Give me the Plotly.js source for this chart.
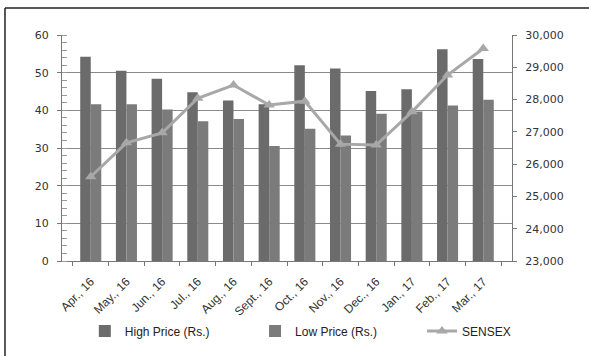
<!DOCTYPE html>
<html>
<head>
<meta charset="utf-8">
<script src="https://cdn.plot.ly/plotly-3.0.1.min.js"></script>
<style>html,body{margin:0;padding:0;background:#fff;}#chart{width:589px;height:356px;}</style>
</head>
<body>
<div id="chart"></div>
<script>
const months = ["Apr., 16","May., 16","Jun., 16","Jul., 16","Aug., 16","Sept., 16","Oct., 16","Nov., 16","Dec., 16","Jan., 17","Feb., 17","Mar., 17"];
const highPrice = [54.2, 50.5, 48.4, 44.8, 42.6, 41.6, 52.0, 51.1, 45.1, 45.6, 56.2, 53.6];
const lowPrice  = [41.6, 41.6, 40.2, 37.1, 37.7, 30.5, 35.1, 33.3, 39.1, 39.7, 41.3, 42.8];
const sensex    = [25610, 26660, 26970, 28040, 28450, 27830, 27950, 26620, 26590, 27620, 28760, 29580];

const traces = [
  {type:'bar', name:'High Price (Rs.)', x:months, y:highPrice, marker:{color:'#6b6b6b'}, yaxis:'y', legend:'legend'},
  {type:'bar', name:'Low Price (Rs.)', x:months, y:lowPrice, marker:{color:'#7b7b7b'}, yaxis:'y', legend:'legend2'},
  {type:'scatter', mode:'lines+markers', name:'SENSEX', x:months, y:sensex, yaxis:'y2', legend:'legend3',
   line:{color:'#a8a8a8', width:3}, marker:{symbol:'triangle-up', size:10, color:'#a8a8a8'}}
];

const tickFont = {family:'DejaVu Sans', size:11, color:'#333'};
const legFont = {family:'Liberation Sans', size:12, color:'#222'};
function leg(x){ return {orientation:'h', xref:'container', yref:'container', x:x, y:0.07, xanchor:'left', yanchor:'middle', font:legFont, bgcolor:'rgba(0,0,0,0)'}; }
const layout = {
  width:589, height:356,
  margin:{l:62, r:77, t:35, b:95},
  paper_bgcolor:'#fff', plot_bgcolor:'#fff',
  barmode:'group', bargap:0.41, bargroupgap:0,
  showlegend:true,
  legend:leg(0.144), legend2:leg(0.433), legend3:leg(0.7165),
  xaxis:{type:'category', showline:true, linecolor:'#777', linewidth:1, ticks:'outside', ticklen:4, tickcolor:'#777',
         tickson:'boundaries', tickangle:-45, ticklabelstandoff:8, tickfont:{family:'Liberation Sans', size:12, color:'#333'}, showgrid:false},
  yaxis:{range:[0,60], dtick:10, showline:true, linecolor:'#777', linewidth:1, ticks:'outside', ticklen:4, tickcolor:'#777',
         showgrid:true, gridcolor:'#8a8a8a', gridwidth:1, zeroline:false, tickfont:tickFont, ticklabelstandoff:6,
         minor:{ticks:'inside', dtick:2, ticklen:5, tickcolor:'#999', showgrid:false}},
  yaxis2:{range:[23000,30000], dtick:1000, overlaying:'y', side:'right', showline:true, linecolor:'#777', linewidth:1,
          ticks:'outside', ticklen:4, tickcolor:'#777', showgrid:false, zeroline:false, tickformat:',d', tickfont:tickFont, ticklabelstandoff:6},
  shapes:[
    {type:'line', xref:'paper', yref:'paper', x0:-0.1267, x1:-0.1267, y0:1.1195, y1:-0.5, line:{color:'#222', width:1.5}},
    {type:'line', xref:'paper', yref:'paper', x0:-0.1267, x1:1.3, y0:1.1195, y1:1.1195, line:{color:'#222', width:1.5}}
  ]
};
Plotly.newPlot('chart', traces, layout, {displayModeBar:false, staticPlot:true});
</script>
</body>
</html>
